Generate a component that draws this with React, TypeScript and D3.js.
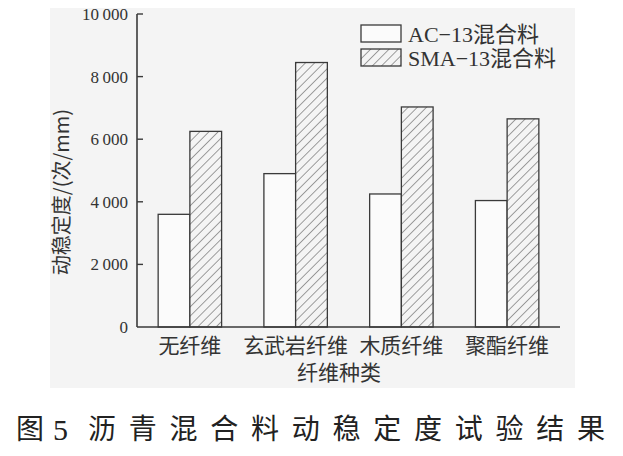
import React from "react";
import * as d3 from "d3";

const categories = ["无纤维", "玄武岩纤维", "木质纤维", "聚酯纤维"];
const seriesNames = ["AC−13混合料", "SMA−13混合料"];
const acValues = [3600, 4900, 4250, 4040];
const smaValues = [6250, 8450, 7030, 6650];
const yTicks = [0, 2000, 4000, 6000, 8000, 10000];

const W = 623;
const H = 456;
const left = 137;
const right = 560;
const top = 14;
const bottom = 327;

const fmt = (v: number) => {
  if (v < 1000) return String(v);
  const s = String(v);
  return s.slice(0, s.length - 3) + "\u2009" + s.slice(s.length - 3);
};

export default function App() {
  const x = d3.scaleBand<string>().domain(categories).range([left, right]).paddingInner(0.4).paddingOuter(0.2);
  const xs = d3.scaleBand<string>().domain(seriesNames).range([0, x.bandwidth()]);
  const y = d3.scaleLinear().domain([0, 10000]).range([bottom, top]);
  const series = [acValues, smaValues];
  const stroke = "#3a3a3a";
  const serif = "'Liberation Serif', 'Times New Roman', 'Noto Sans CJK SC', serif";
  const cjk = "'Noto Sans CJK SC', 'Liberation Serif', serif";

  return (
    <svg width={W} height={H} style={{ position: "absolute", left: 0, top: 0, background: "#fff" }}>
      <defs>
        <pattern id="hatch" patternUnits="userSpaceOnUse" width="6.5" height="6.5" patternTransform="rotate(45)">
          <rect width="6.5" height="6.5" fill="#f4f4f4" />
          <line x1="0" y1="0" x2="0" y2="6.5" stroke="#555" strokeWidth="1.1" />
        </pattern>
      </defs>
      <rect x={50} y={8} width={525} height={380} fill="#f4f4f4" />
      {categories.map((c, i) =>
        series.map((vals, s) => {
          const bx = (x(c) as number) + (xs(seriesNames[s]) as number);
          const by = y(vals[i]);
          return (
            <rect
              key={c + s}
              x={bx}
              y={by}
              width={xs.bandwidth()}
              height={bottom - by}
              fill={s === 0 ? "#fbfbfb" : "url(#hatch)"}
              stroke={stroke}
              strokeWidth={1.3}
            />
          );
        })
      )}
      <line x1={left} x2={left} y1={top} y2={bottom} stroke={stroke} strokeWidth={1.6} />
      <line x1={left} x2={right} y1={bottom} y2={bottom} stroke={stroke} strokeWidth={1.6} />
      {yTicks.map((t) => (
        <g key={t}>
          {t > 0 && <line x1={left} x2={left + 6} y1={y(t)} y2={y(t)} stroke={stroke} strokeWidth={1.4} />}
          <text x={128} y={y(t)} dy="0.35em" textAnchor="end" fontFamily={serif} fontSize={17} fill="#333">
            {fmt(t)}
          </text>
        </g>
      ))}
      {categories.map((c) => (
        <text key={c} x={(x(c) as number) + x.bandwidth() / 2} y={346} dy="0.35em" textAnchor="middle" fontFamily={cjk} fontSize={21} fill="#333">
          {c}
        </text>
      ))}
      <text x={339} y={373} dy="0.35em" textAnchor="middle" fontFamily={cjk} fontSize={21} fill="#333">
        纤维种类
      </text>
      <text transform="translate(62,192) rotate(-90)" textAnchor="middle" dy="0.35em" fontFamily={cjk} fontSize={20} fill="#333">
        动稳定度/(次/mm)
      </text>
      {seriesNames.map((n, s) => (
        <g key={n} transform={`translate(361, ${25 + s * 24})`}>
          <rect x={0} y={0} width={40} height={17} fill={s === 0 ? "#fbfbfb" : "url(#hatch)"} stroke={stroke} strokeWidth={1.3} />
          <text x={47} y={9} dy="0.35em" fontFamily={serif} fontSize={22} fill="#333">
            {n}
          </text>
        </g>
      ))}
      <text x={16} y={429} dy="0.35em" fontFamily={cjk} fontSize={28} fill="#222">
        图
      </text>
      <text x={53} y={429} dy="0.35em" fontFamily={serif} fontSize={30} fill="#222">
        5
      </text>
      <text x={88} y={429} dy="0.35em" fontFamily={cjk} fontSize={28} fill="#222" textLength={517} lengthAdjust="spacing">
        沥青混合料动稳定度试验结果
      </text>
    </svg>
  );
}
